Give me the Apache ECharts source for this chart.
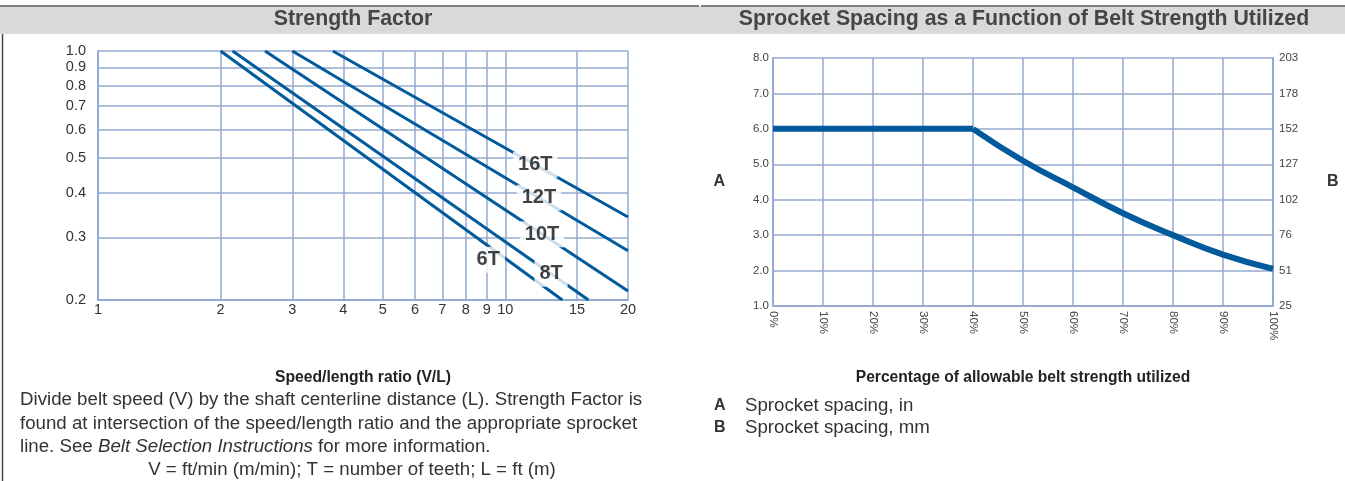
<!DOCTYPE html>
<html>
<head>
<meta charset="utf-8">
<script src="https://cdn.jsdelivr.net/npm/echarts@6/dist/echarts.min.js"></script>
<style>
  html, body { margin: 0; padding: 0; background: #fff; }
  #main { width: 1345px; height: 481px; }
</style>
</head>
<body>
<div id="main"></div>
<script>
// ---- Strength factor: one straight sprocket line per tooth count (log–log) ----
const sfBelts        = ['6T', '8T', '10T', '12T', '16T'];
const sfStartRatio   = [2.0, 2.14, 2.57, 3.0, 3.77];
const sfStartFactor  = [1.0, 1.0, 1.0, 1.0, 1.0];
const sfEndRatio     = [13.8, 16.0, 20, 20, 20];
const sfEndFactor    = [0.2, 0.2, 0.212, 0.275, 0.342];
const sfLabelRatio   = [9.5, 12.95, 12.3, 12.09, 11.84];
const ratioTicks     = [1, 2, 3, 4, 5, 6, 7, 8, 9, 10, 15, 20];
const factorTicks    = [0.2, 0.3, 0.4, 0.5, 0.6, 0.7, 0.8, 0.9, 1.0];

// ---- Sprocket spacing (in) vs. percentage of belt strength utilized ----
const utilPct   = [0, 40, 50, 60, 70, 80, 90, 100];
const spacingIn = [6.0, 6.0, 5.1, 4.35, 3.62, 3.0, 2.45, 2.05];
const MM_PER_IN = 25.4;

const FONT = '"Liberation Sans", Arial, Helvetica, sans-serif';
const GRID_COLOR = '#93aad2';
const LINE_BLUE = '#005a9c';
const TEXT = '#333';

// point on a sprocket line (straight in log–log space) at a given ratio
function factorOnLine(i, r) {
  const lx0 = Math.log(sfStartRatio[i]), lx1 = Math.log(sfEndRatio[i]);
  const ly0 = Math.log(sfStartFactor[i]), ly1 = Math.log(sfEndFactor[i]);
  const t = (Math.log(r) - lx0) / (lx1 - lx0);
  return Math.exp(ly0 + t * (ly1 - ly0));
}

const sprocketSeries = sfBelts.map((name, i) => ({
  type: 'line',
  name: name,
  xAxisIndex: 0, yAxisIndex: 0,
  data: [[sfStartRatio[i], sfStartFactor[i]], [sfEndRatio[i], sfEndFactor[i]]],
  symbol: 'none',
  silent: true,
  lineStyle: { color: LINE_BLUE, width: 3 },
  z: 3
}));

const sprocketLabels = {
  type: 'scatter',
  xAxisIndex: 0, yAxisIndex: 0,
  symbolSize: 1,
  itemStyle: { color: 'rgba(0,0,0,0)' },
  silent: true,
  z: 5,
  data: sfBelts.map((name, i) => ({
    value: [sfLabelRatio[i], factorOnLine(i, sfLabelRatio[i])],
    name: name,
    label: name === '6T' ? { offset: [-8, 8] } : {}
  })),
  label: {
    show: true,
    position: 'inside',
    formatter: p => p.name,
    fontFamily: FONT,
    fontSize: 20,
    fontWeight: 'bold',
    color: '#111',
    textBorderWidth: 0,
    backgroundColor: '#fff',
    padding: [3, 5]
  }
};

const spacingFlat = {
  type: 'line',
  xAxisIndex: 1, yAxisIndex: 1,
  data: utilPct.slice(0, 2).map((p, i) => [p, spacingIn[i]]),
  symbol: 'none', silent: true,
  lineStyle: { color: LINE_BLUE, width: 6 },
  z: 3
};
const spacingCurve = {
  type: 'line',
  xAxisIndex: 1, yAxisIndex: 1,
  data: utilPct.slice(1).map((p, i) => [p, spacingIn[i + 1]]),
  symbol: 'none', silent: true, smooth: 0.5,
  lineStyle: { color: LINE_BLUE, width: 6 },
  z: 3
};

const gridLine = { show: true, lineStyle: { color: GRID_COLOR, width: 1.5 } };
const axisLineStyle = { show: true, lineStyle: { color: GRID_COLOR, width: 2 } };

const headerY = 6, headerH = 28;
const BODY = 18.7;

const option = {
  backgroundColor: '#fff',
  animation: false,
  grid: [
    { left: 98, top: 51, width: 530, height: 249 },
    { left: 773, top: 58, width: 500, height: 248 }
  ],
  xAxis: [
    {
      gridIndex: 0, type: 'log', min: 1, max: 20, logBase: 10,
      axisLine: axisLineStyle,
      axisTick: { show: false, customValues: ratioTicks },
      splitLine: gridLine,
      axisLabel: {
        customValues: ratioTicks,
        formatter: v => String(Math.round(v)),
        fontFamily: FONT, fontSize: 14.5, color: TEXT, margin: 2
      },
      name: 'Speed/length ratio (V/L)',
      nameLocation: 'middle', nameGap: 70,
      nameTextStyle: { fontFamily: FONT, fontSize: 15.7, fontWeight: 'bold', color: '#222' }
    },
    {
      gridIndex: 1, type: 'value', min: 0, max: 100, interval: 10,
      axisLine: axisLineStyle,
      axisTick: { show: false },
      splitLine: gridLine,
      axisLabel: {
        rotate: -90, formatter: '{value}%',
        fontFamily: FONT, fontSize: 11.5, color: '#444', margin: 5
      },
      name: 'Percentage of allowable belt strength utilized',
      nameLocation: 'middle', nameGap: 64,
      nameTextStyle: { fontFamily: FONT, fontSize: 15.6, fontWeight: 'bold', color: '#222' }
    }
  ],
  yAxis: [
    {
      gridIndex: 0, type: 'log', min: 0.2, max: 1.0, logBase: 10,
      axisLine: axisLineStyle,
      axisTick: { show: false, customValues: factorTicks },
      splitLine: gridLine,
      axisLabel: {
        customValues: factorTicks,
        formatter: v => v.toFixed(1),
        fontFamily: FONT, fontSize: 14.5, color: TEXT, margin: 12
      }
    },
    {
      gridIndex: 1, type: 'value', min: 1, max: 8, interval: 1,
      axisLine: axisLineStyle,
      axisTick: { show: false },
      splitLine: gridLine,
      axisLabel: {
        formatter: v => v.toFixed(1),
        fontFamily: FONT, fontSize: 11.5, color: '#444', margin: 4
      },
      name: 'A', nameLocation: 'middle', nameRotate: 0, nameGap: 48,
      nameTextStyle: { fontFamily: FONT, fontSize: 16, fontWeight: 'bold', color: '#333' }
    },
    {
      gridIndex: 1, type: 'value', position: 'right', min: 1, max: 8, interval: 1,
      axisLine: axisLineStyle,
      axisTick: { show: false },
      splitLine: { show: false },
      axisLabel: {
        formatter: v => String(Math.round(v * MM_PER_IN)),
        fontFamily: FONT, fontSize: 11.5, color: '#444', margin: 6
      },
      name: 'B', nameLocation: 'middle', nameRotate: 0, nameGap: 54,
      nameTextStyle: { fontFamily: FONT, fontSize: 16, fontWeight: 'bold', color: '#333' }
    }
  ],
  graphic: [
    // header bands
    { type: 'rect', shape: { x: 0, y: headerY, width: 1345, height: headerH },
      style: { fill: '#d9d9d9' }, z: 0, silent: true },
    { type: 'line', shape: { x1: 0, y1: headerY, x2: 699, y2: headerY },
      style: { stroke: '#5a5a5a', lineWidth: 1.5 }, silent: true },
    { type: 'line', shape: { x1: 701, y1: headerY, x2: 1345, y2: headerY },
      style: { stroke: '#5a5a5a', lineWidth: 1.5 }, silent: true },
    { type: 'text', x: 353, y: headerY + headerH / 2 - 1,
      style: { text: 'Strength Factor', fontFamily: FONT, fontSize: 21.3, fontWeight: 'bold',
               fill: '#454545', textAlign: 'center', textVerticalAlign: 'middle' } },
    { type: 'text', x: 1024, y: headerY + headerH / 2 - 1,
      style: { text: 'Sprocket Spacing as a Function of Belt Strength Utilized', fontFamily: FONT,
               fontSize: 21.3, fontWeight: 'bold', fill: '#454545', textAlign: 'center', textVerticalAlign: 'middle' } },
    // left panel border
    { type: 'line', shape: { x1: 2.5, y1: headerY + headerH, x2: 2.5, y2: 481 },
      style: { stroke: '#444', lineWidth: 1.5 }, silent: true },
    // strength factor notes
    { type: 'text', x: 20, y: 400,
      style: { text: 'Divide belt speed (V) by the shaft centerline distance (L). Strength Factor is',
               fontFamily: FONT, fontSize: BODY, fill: TEXT, textVerticalAlign: 'middle' } },
    { type: 'text', x: 20, y: 424,
      style: { text: 'found at intersection of the speed/length ratio and the appropriate sprocket',
               fontFamily: FONT, fontSize: BODY, fill: TEXT, textVerticalAlign: 'middle' } },
    { type: 'text', x: 20, y: 447,
      style: { text: 'line. See {i|Belt Selection Instructions} for more information.',
               rich: { i: { fontStyle: 'italic', fontFamily: FONT, fontSize: BODY, fill: TEXT } },
               fontFamily: FONT, fontSize: BODY, fill: TEXT, textVerticalAlign: 'middle' } },
    { type: 'text', x: 352, y: 470,
      style: { text: 'V = ft/min (m/min); T = number of teeth; L = ft (m)',
               fontFamily: FONT, fontSize: BODY, fill: TEXT, textAlign: 'center', textVerticalAlign: 'middle' } },
    // spacing legend
    { type: 'text', x: 714, y: 406,
      style: { text: 'A', fontFamily: FONT, fontSize: 16, fontWeight: 'bold', fill: '#333', textVerticalAlign: 'middle' } },
    { type: 'text', x: 745, y: 406,
      style: { text: 'Sprocket spacing, in', fontFamily: FONT, fontSize: BODY, fill: TEXT, textVerticalAlign: 'middle' } },
    { type: 'text', x: 714, y: 428,
      style: { text: 'B', fontFamily: FONT, fontSize: 16, fontWeight: 'bold', fill: '#333', textVerticalAlign: 'middle' } },
    { type: 'text', x: 745, y: 428,
      style: { text: 'Sprocket spacing, mm', fontFamily: FONT, fontSize: BODY, fill: TEXT, textVerticalAlign: 'middle' } }
  ],
  series: [...sprocketSeries, sprocketLabels, spacingFlat, spacingCurve]
};

const chart = echarts.init(document.getElementById('main'), null, { renderer: 'canvas' });
chart.setOption(option);
</script>
</body>
</html>
